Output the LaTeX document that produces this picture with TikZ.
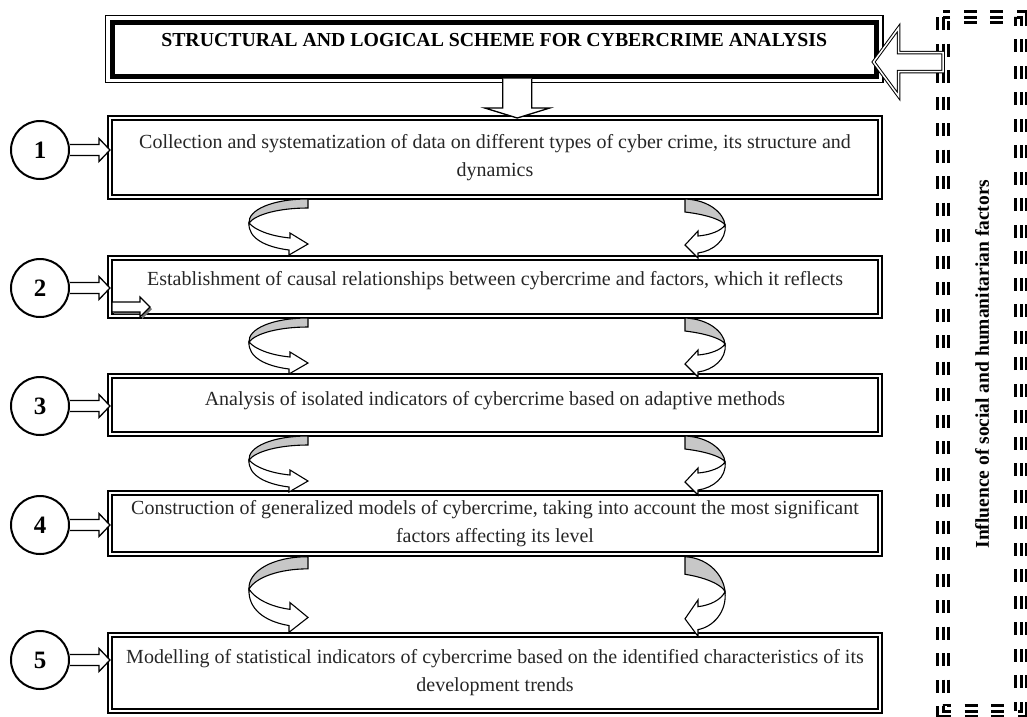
\documentclass[tikz,border=0pt]{standalone}
\usepackage{fontspec}
\setmainfont{Liberation Serif}
\usetikzlibrary{calc}

\begin{document}
\begin{tikzpicture}[x=1pt,y=-1pt,
   every node/.style={font=\fontsize{20}{28}\selectfont, text=black!85},
   titlebox/.style={draw, line width=5pt, minimum width=764.5pt, minimum height=54pt,
      outer sep=0pt, text=black, font=\bfseries\fontsize{19.8}{23}\selectfont,
      text height=13pt, text depth=18.4pt},
   stage/.style={draw, double, line width=1.8pt, double distance=2.2pt,
      minimum width=770pt, outer sep=0pt, inner sep=0pt, align=center},
   num/.style={circle, draw, line width=2pt, minimum size=58pt, inner sep=0pt,
      outer sep=0pt, text=black, font=\bfseries\fontsize{25}{25}\selectfont},
   sideframe/.style={rotate=90, minimum width=694pt, minimum height=78pt,
      inner sep=0pt, outer sep=0pt, text=black, font=\bfseries\fontsize{19.5}{22}\selectfont,
      preaction={draw=black, line width=14pt, dash pattern=on 13pt off 13.5pt},
      draw=white, line width=8pt, dash pattern=on 13pt off 13.5pt,
      postaction={draw=black, line width=3pt, dash pattern=on 13pt off 13.5pt}},
   blockarrow/.style={draw, fill=white, line width=1.3pt, line join=miter},
   dblarrow/.style={draw, fill=white, double, line width=1pt, double distance=1.5pt},
   band/.style={fill=black!22, draw=black, line width=1.1pt},
   pics/twist/.style={code={
      \filldraw[band] (198,2) -- (198,11) .. controls (170,11) and (146,17) .. (139,26)
         .. controls (138,13) and (162,2) .. (198,2) -- cycle;
      \filldraw[band, fill=white] (139,26) .. controls (138,41) and (155,50) .. (179,53)
         -- (179,58) -- (198,47) -- (180,36) -- (180,41)
         .. controls (160,39) and (145,33) .. (139,26) -- cycle;
      \filldraw[band] (575,2) -- (575,15) .. controls (600,18) and (613,24) .. (615,28)
         .. controls (614,17) and (600,3) .. (575,2) -- cycle;
      \filldraw[band, fill=white] (615,28) .. controls (617,43) and (603,54) .. (588,56)
         -- (588,61) -- (575,48) -- (588,34) -- (588,39)
         .. controls (600,38) and (611,34) .. (615,28) -- cycle;
   }}]

\useasboundingbox (0,0) rectangle (1027,716);

\node[titlebox] (title) at (494.25,49) {STRUCTURAL AND LOGICAL SCHEME FOR CYBERCRIME ANALYSIS};
\draw[line width=1.2pt] ($(title.north west)+(-6.5,-6.5)$) rectangle ($(title.south east)+(6.5,6.5)$);

\node[stage, minimum height=79pt] (b1) at (495,157.5)
   {Collection and systematization of data on different types of cyber crime, its structure and\\ dynamics};
\node[stage, minimum height=58pt, text height=13pt, text depth=16pt] (b2) at (495,287)
   {Establishment of causal relationships between cybercrime and factors, which it reflects};
\node[stage, minimum height=58pt, text height=13pt, text depth=12pt] (b3) at (495,405)
   {Analysis of isolated indicators of cybercrime based on adaptive methods};
\node[stage, minimum height=61pt] (b4) at (495,523.5)
   {Construction of generalized models of cybercrime, taking into account the most significant\\ factors affecting its level};
\node[stage, minimum height=76pt] (b5) at (495,673)
   {Modelling of statistical indicators of cybercrime based on the identified characteristics of its\\ development trends};

\node[num] (c1) at (40,150) {1};
\node[num] (c2) at (40,288) {2};
\node[num] (c3) at (40,406) {3};
\node[num] (c4) at (40,525) {4};
\node[num] (c5) at (40,660) {5};

\node[sideframe] (side) at (982,364) {Influence of social and humanitarian factors};

\draw[blockarrow] let \p1=($(title.south)+(23,0)$), \p2=(b1.north) in
   (\x1-14.5pt,\y1-2.5pt) -- (\x1-14.5pt,\y2+10pt) -- (\x1-32.5pt,\y2+10pt) -- (\x1,\y2)
   -- (\x1+32.5pt,\y2+10pt) -- (\x1+14.5pt,\y2+10pt) -- (\x1+14.5pt,\y1-2.5pt);

\draw[dblarrow] let \p1=($(title.east)+(-3,13)$), \p2=(side.north) in
   (\x1,\y1) -- (\x1+25pt,\y1+34pt) -- (\x1+25pt,\y1+9.5pt) -- (\x2,\y1+9.5pt)
   -- (\x2,\y1-9.5pt) -- (\x1+25pt,\y1-9.5pt) -- (\x1+25pt,\y1-34pt) -- cycle;

\foreach \i in {1,...,5}
   \draw[blockarrow] let \p1=(c\i.east), \p2=(b\i.west) in
      (\x1+1pt,\y1+5.5pt) -- (\x2-11pt,\y1+5.5pt) -- (\x2-11pt,\y1+11.5pt) -- (\x2,\y1)
      -- (\x2-11pt,\y1-11.5pt) -- (\x2-11pt,\y1-5.5pt) -- (\x1+1pt,\y1-5.5pt);

\begin{scope}[shift={(b2.south west)}]
   \fill[black!55] (4,-2) -- (32,-2) -- (32,3) -- (42,-7) -- (32,-17) -- (32,-12) -- (4,-12) -- cycle;
   \draw[blockarrow, line width=1.1pt] (2,-4) -- (30,-4) -- (30,1) -- (40,-9) -- (30,-19) -- (30,-14) -- (2,-14) -- cycle;
\end{scope}

\pic at (b1.south west) {twist};
\pic at (b2.south west) {twist};
\pic at (b3.south west) {twist};
\pic[yscale=1.35] at (b4.south west) {twist};

\end{tikzpicture}
\end{document}
